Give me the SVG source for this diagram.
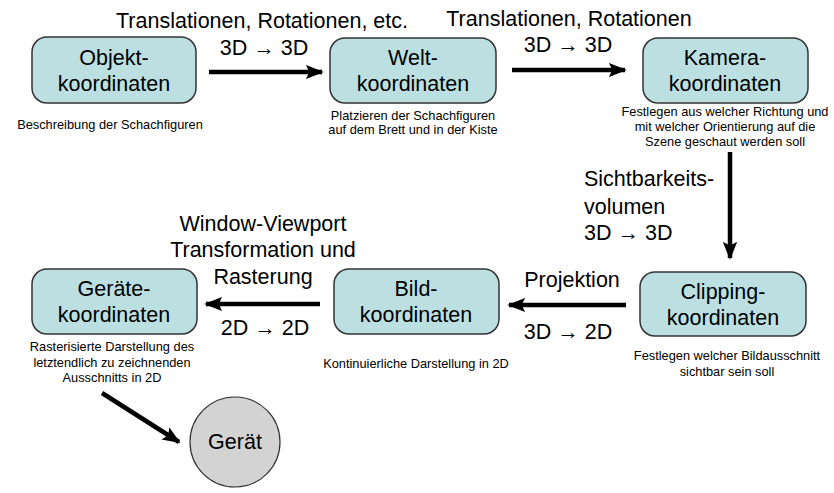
<svg xmlns="http://www.w3.org/2000/svg" width="834" height="493" viewBox="0 0 834 493">
<style>
text{font-family:"Liberation Sans",Arial,sans-serif;fill:#000}
.node{fill:#bce0e2;stroke:#333;stroke-width:1.5}
.lbl{font-size:21.5px;text-anchor:middle}
.big{font-size:21.5px}
.mid{text-anchor:middle}
.sm{font-size:12.8px;text-anchor:middle}
.conn{stroke:#000;stroke-width:4.5;fill:none}
</style>
<defs>
<marker id="ah" viewBox="0 0 10 10" refX="9" refY="5" markerWidth="4" markerHeight="4" orient="auto" markerUnits="strokeWidth">
<path d="M0,1 L10,5 L0,9 L2,5 z" fill="#000"/>
</marker>
</defs>
<rect width="834" height="493" fill="#fff"/>
<g id="connectors">
<line class="conn" x1="209" y1="72" x2="322" y2="72" marker-end="url(#ah)"/>
<line class="conn" x1="512" y1="70" x2="625" y2="70" marker-end="url(#ah)"/>
<line class="conn" x1="730" y1="152" x2="730" y2="258" marker-end="url(#ah)"/>
<line class="conn" x1="626" y1="305" x2="509" y2="305" marker-end="url(#ah)"/>
<line class="conn" x1="320" y1="304" x2="206" y2="304" marker-end="url(#ah)"/>
<line class="conn" x1="102" y1="393" x2="179" y2="442" marker-end="url(#ah)"/>
</g>
<g id="edge-labels">
<text class="big mid" x="262" y="28">Translationen, Rotationen, etc.</text>
<text class="big mid" x="264" y="55">3D → 3D</text>
<text class="big mid" x="569" y="26">Translationen, Rotationen</text>
<text class="big mid" x="568" y="52">3D → 3D</text>
<text class="big" x="584" y="186">Sichtbarkeits-</text>
<text class="big" x="584" y="214">volumen</text>
<text class="big" x="584" y="240">3D → 3D</text>
<text class="big mid" x="572" y="287">Projektion</text>
<text class="big mid" x="568" y="339">3D → 2D</text>
<text class="big mid" x="263" y="231">Window-Viewport</text>
<text class="big mid" x="263" y="257">Transformation und</text>
<text class="big mid" x="263" y="284">Rasterung</text>
<text class="big mid" x="265" y="335">2D → 2D</text>
</g>
<g id="objekt">
<rect class="node" x="32" y="37" width="164" height="66" rx="15"/>
<text class="lbl" x="114" y="65">Objekt-</text>
<text class="lbl" x="114" y="91">koordinaten</text>
<text class="sm" x="110" y="129">Beschreibung der Schachfiguren</text>
</g>
<g id="welt">
<rect class="node" x="330" y="38" width="166" height="65" rx="15"/>
<text class="lbl" x="413" y="65">Welt-</text>
<text class="lbl" x="413" y="91">koordinaten</text>
<text class="sm" x="413" y="120">Platzieren der Schachfiguren</text>
<text class="sm" x="413" y="134">auf dem Brett und in der Kiste</text>
</g>
<g id="kamera">
<rect class="node" x="643" y="38" width="165" height="65" rx="15"/>
<text class="lbl" x="725" y="65">Kamera-</text>
<text class="lbl" x="725" y="91">koordinaten</text>
<text class="sm" x="725" y="116">Festlegen aus welcher Richtung und</text>
<text class="sm" x="725" y="131">mit welcher Orientierung auf die</text>
<text class="sm" x="725" y="146">Szene geschaut werden soll</text>
</g>
<g id="clipping">
<rect class="node" x="640" y="272" width="166" height="64" rx="15"/>
<text class="lbl" x="723" y="299">Clipping-</text>
<text class="lbl" x="723" y="325">koordinaten</text>
<text class="sm" x="727" y="360">Festlegen welcher Bildausschnitt</text>
<text class="sm" x="727" y="376">sichtbar sein soll</text>
</g>
<g id="bild">
<rect class="node" x="334" y="269" width="165" height="65" rx="15"/>
<text class="lbl" x="416" y="296">Bild-</text>
<text class="lbl" x="416" y="322">koordinaten</text>
<text class="sm" x="416" y="368">Kontinuierliche Darstellung in 2D</text>
</g>
<g id="geraete">
<rect class="node" x="32" y="269" width="165" height="65" rx="15"/>
<text class="lbl" x="114" y="296">Geräte-</text>
<text class="lbl" x="114" y="322">koordinaten</text>
<text class="sm" x="112" y="351">Rasterisierte Darstellung des</text>
<text class="sm" x="112" y="367">letztendlich zu zeichnenden</text>
<text class="sm" x="112" y="382">Ausschnitts in 2D</text>
</g>
<g id="geraet">
<circle cx="235" cy="442" r="45" fill="#d3d3d3" stroke="#333" stroke-width="1.2"/>
<text class="lbl" x="235" y="449">Gerät</text>
</g>
</svg>
